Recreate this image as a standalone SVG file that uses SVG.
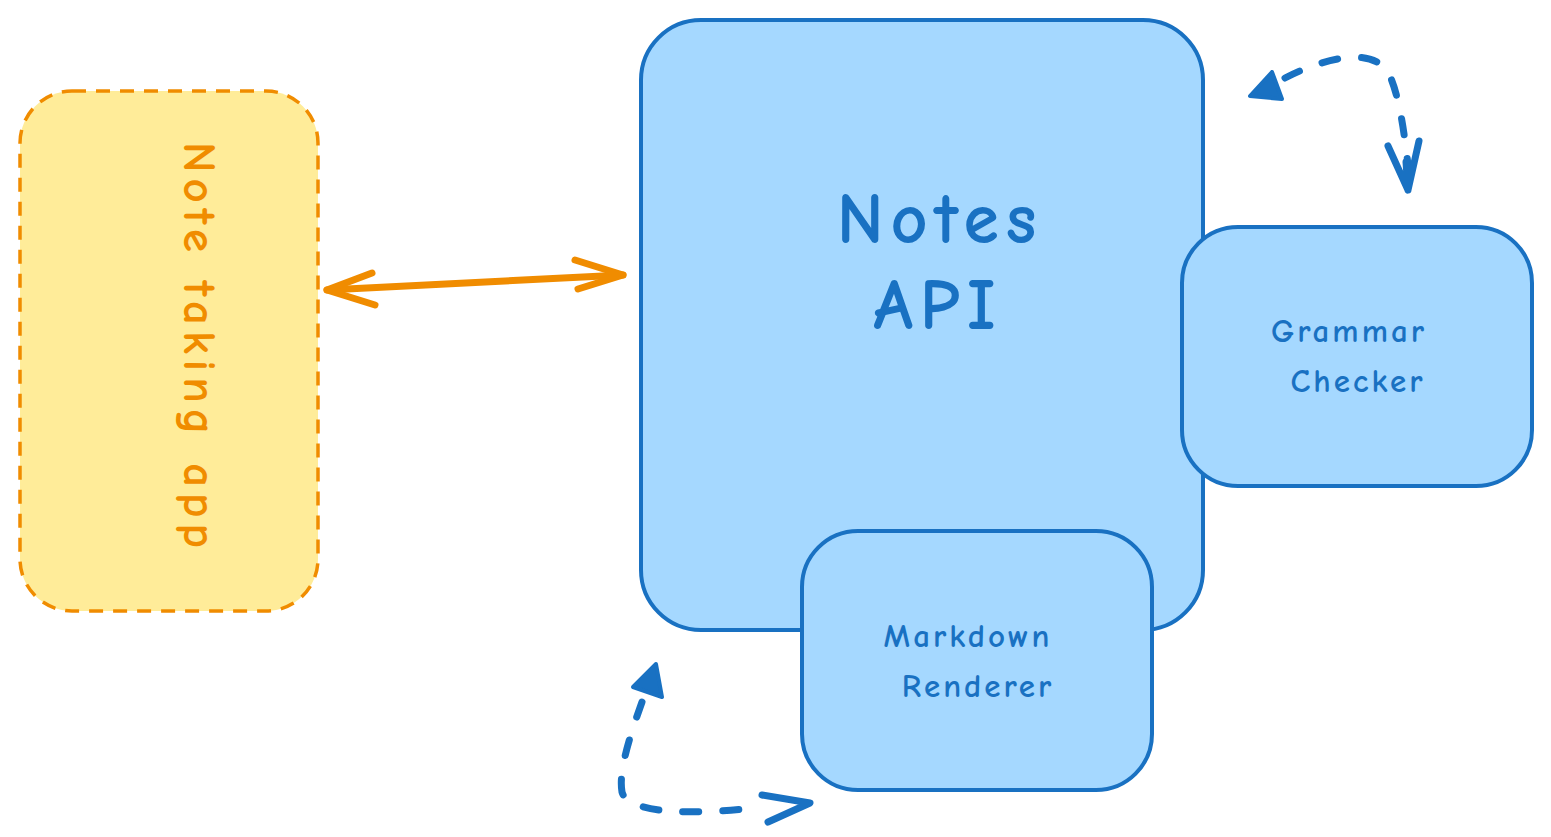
<svg xmlns="http://www.w3.org/2000/svg" width="1551" height="837" viewBox="0 0 1551 837">
<defs>
<style>
.blue{fill:#a5d8ff;stroke:#1971c2;stroke-width:4}
.yellow{fill:#ffec99;stroke:#f08c00;stroke-width:3.5;stroke-dasharray:14 10}
.tb{fill:#1971c2;font-family:"Comic Neue","Liberation Sans",sans-serif;font-weight:bold;text-anchor:middle}
.to{fill:#f08c00;font-family:"Comic Neue","Liberation Sans",sans-serif;font-weight:bold;text-anchor:middle}
.dash{fill:none;stroke:#1971c2;stroke-width:7;stroke-linecap:round;stroke-dasharray:16 24}
.open{fill:none;stroke:#1971c2;stroke-width:7;stroke-linecap:round;stroke-linejoin:round}
.tri{fill:#1971c2;stroke:#1971c2;stroke-width:4;stroke-linejoin:round}
.orange{fill:none;stroke:#f08c00;stroke-width:7;stroke-linecap:round;stroke-linejoin:round}
</style>
</defs>
<g id="note-app">
<rect class="yellow" x="20" y="91" width="298" height="520" rx="52"/>
<text class="to" font-size="47" letter-spacing="6" transform="translate(200 348) rotate(90)" dy="16">Note taking app</text>
</g>
<g id="notes-api">
<rect class="blue" x="641" y="20" width="562" height="610" rx="60"/>
<text class="tb" font-size="72" letter-spacing="7" x="940" y="243">Notes</text>
<text class="tb" font-size="72" letter-spacing="7" x="938" y="329">API</text>
</g>
<g id="grammar-checker">
<rect class="blue" x="1182" y="227" width="350" height="259" rx="56"/>
<text class="tb" font-size="33" letter-spacing="3" x="1349" y="342">Grammar</text>
<text class="tb" font-size="33" letter-spacing="3" x="1358" y="392">Checker</text>
</g>
<g id="markdown-renderer">
<rect class="blue" x="802" y="531" width="350" height="259" rx="56"/>
<text class="tb" font-size="33" letter-spacing="3" x="968" y="647">Markdown</text>
<text class="tb" font-size="33" letter-spacing="3" x="978" y="697">Renderer</text>
</g>
<g id="connectors">
<path class="orange" d="M327 290 L623 275"/>
<path class="orange" d="M372 273 L327 290 L375 305"/>
<path class="orange" d="M575 260 L623 275 L578 289"/>
<path class="dash" d="M1285 78 C1320 60 1370 45 1388 72 C1400 95 1405 140 1408 165"/>
<path class="tri" d="M1272 72 L1250 96 L1282 99 Z"/>
<path class="open" d="M1388 146 L1408 190 L1419 141 M1406 162 L1408 190"/>
<path class="dash" d="M642 702 C632 730 618 770 622 792 C628 815 700 815 762 807"/>
<path class="tri" d="M656 664 L633 687 L662 697 Z"/>
<path class="open" d="M762 795 L810 803 L768 822"/>
</g>
</svg>
